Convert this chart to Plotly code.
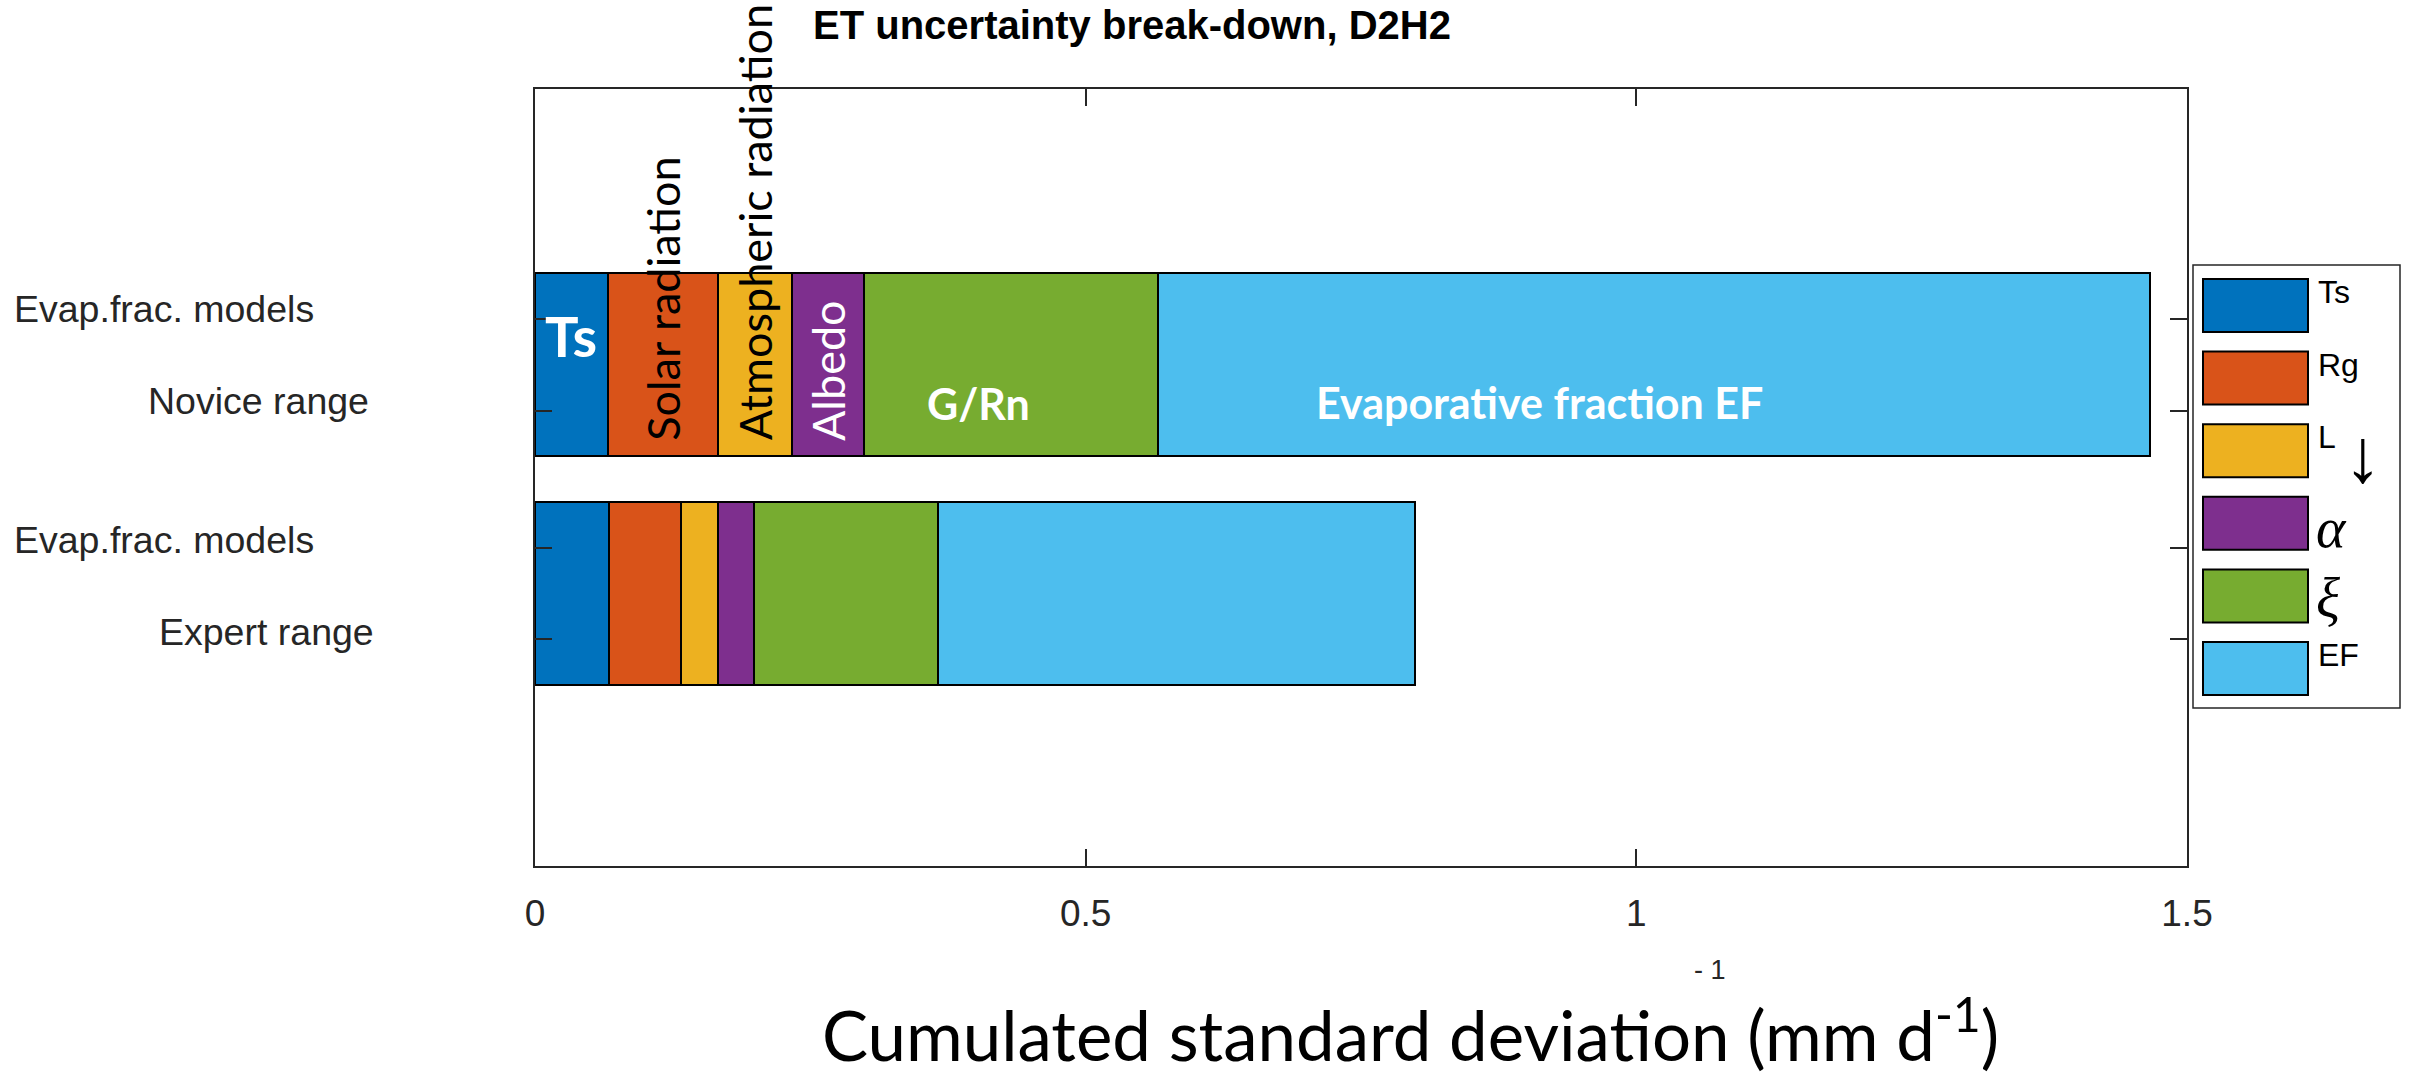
import plotly.graph_objects as go

# ---------------- data ----------------
components = ["Ts", "Rg", "L\u2193", "\u03b1", "\u03be", "EF"]
colors = ["#0072BD", "#D95319", "#EDB120", "#7E2F8E", "#77AC30", "#4DBEEE"]
bar_positions = [2, 1]                      # 2 = novice (top), 1 = expert (bottom)
novice_values = [0.066, 0.100, 0.067, 0.066, 0.267, 0.900]
expert_values = [0.067, 0.066, 0.033, 0.033, 0.167, 0.433]

x_tickvals = [0, 0.5, 1, 1.5]
x_ticktext = ["0", "0.5", "1", "1.5"]
y_tickvals = [2.2, 1.8, 1.2, 0.8]
y_ticktext = ["Evap.frac. models", "Novice range", "Evap.frac. models", "Expert range"]

title_text = "ET uncertainty break-down, D2H2"
xlabel_text = "Cumulated standard deviation (mm d<sup>-1</sup>)"

# ---------------- layout helpers ----------------
W, H = 2417, 1075
L, R, T, B = 535, 2187, 89, 866


def xp(px):
    return (px - L) / (R - L)


def yp(py):
    return (B - py) / (B - T)


AX = "#262626"
ARIAL = "Liberation Sans, Arial, sans-serif"
CALIBRI = "Lato, Open Sans, sans-serif"
SERIF = "Liberation Serif, DejaVu Serif, serif"

fig = go.Figure()
for i, name in enumerate(components):
    fig.add_trace(go.Bar(
        y=bar_positions,
        x=[novice_values[i], expert_values[i]],
        orientation="h",
        width=0.8,
        name=name,
        marker=dict(color=colors[i], line=dict(color="black", width=2)),
        showlegend=False,
        hoverinfo="x+name",
    ))

annotations = []

# title
annotations.append(dict(text="<b>" + title_text + "</b>", xref="paper", yref="paper",
                        x=xp(811), y=yp(25), xanchor="left", yanchor="middle",
                        showarrow=False, font=dict(family=ARIAL, size=40, color="black")))

# y tick labels (custom alignment)
ylab_left_px = [12, 146, 12, 157]
ylab_y = [2.245, 1.843, 1.236, 0.834]
for txt, lpx, yy in zip(y_ticktext, ylab_left_px, ylab_y):
    annotations.append(dict(text=txt, xref="paper", yref="y", x=xp(lpx), y=yy,
                            xanchor="left", yanchor="middle", showarrow=False,
                            font=dict(family=ARIAL, size=37.5, color=AX)))

# x axis label
annotations.append(dict(text=xlabel_text, xref="paper", yref="paper",
                        x=xp(1410), y=yp(1030), xanchor="center", yanchor="middle",
                        showarrow=False, font=dict(family=CALIBRI, size=69, color="black")))
annotations.append(dict(text="- 1", xref="paper", yref="paper",
                        x=xp(1710), y=yp(970), xanchor="center", yanchor="middle",
                        showarrow=False, font=dict(family=ARIAL, size=27, color=AX)))

# in-bar labels
cum = [sum(novice_values[:i + 1]) for i in range(len(novice_values))]
starts = [0] + cum[:-1]
mid = [(s + c) / 2 for s, c in zip(starts, cum)]
annotations.append(dict(text="<b>Ts</b>", x=mid[0], y=2.13, xref="x", yref="y",
                        showarrow=False, font=dict(family=CALIBRI, size=56, color="white")))
rot_labels = [("Solar radiation", 1, "black"), ("Atmospheric radiation", 2, "black"),
              ("Albedo", 3, "white")]
for txt, idx, col in rot_labels:
    annotations.append(dict(text=txt, x=mid[idx], y=1.66, xref="x", yref="y",
                            textangle=-90, xanchor="center", yanchor="bottom",
                            showarrow=False, font=dict(family=CALIBRI, size=45, color=col)))
annotations.append(dict(text="<b>G/Rn</b>", x=0.403, y=1.83, xref="x", yref="y",
                        showarrow=False, font=dict(family=CALIBRI, size=43, color="white")))
annotations.append(dict(text="<b>Evaporative fraction EF</b>", x=0.912, y=1.834, xref="x", yref="y",
                        showarrow=False, font=dict(family=CALIBRI, size=43, color="white")))

# manual legend
shapes = []
shapes.append(dict(type="rect", xref="paper", yref="paper",
                   x0=xp(2193), x1=xp(2400), y0=yp(708), y1=yp(265),
                   line=dict(color=AX, width=1.5), fillcolor="white", layer="above"))
sw_top0, sw_step, sw_h = 279, 72.6, 53
for i, col in enumerate(colors):
    top = sw_top0 + i * sw_step
    shapes.append(dict(type="rect", xref="paper", yref="paper",
                       x0=xp(2203), x1=xp(2308), y0=yp(top + sw_h), y1=yp(top),
                       line=dict(color="black", width=2), fillcolor=col, layer="above"))
plain_legend = {0: "Ts", 1: "Rg", 2: "L", 5: "EF"}
for i, txt in plain_legend.items():
    top = sw_top0 + i * sw_step
    annotations.append(dict(text=txt, xref="paper", yref="paper", x=xp(2316), y=yp(top - 7),
                            xanchor="left", yanchor="top", showarrow=False,
                            font=dict(family=ARIAL, size=32, color="black")))
annotations.append(dict(text="\u2193", xref="paper", yref="paper", x=xp(2363), y=yp(456),
                        xanchor="center", yanchor="middle", showarrow=False,
                        font=dict(family=SERIF, size=76, color="black")))
annotations.append(dict(text="<i>\u03b1</i>", xref="paper", yref="paper", x=xp(2314), y=yp(528),
                        xanchor="left", yanchor="middle", showarrow=False,
                        font=dict(family=SERIF, size=56, color="black")))
annotations.append(dict(text="<i>\u03be</i>", xref="paper", yref="paper", x=xp(2314), y=yp(598),
                        xanchor="left", yanchor="middle", showarrow=False,
                        font=dict(family=SERIF, size=56, color="black")))

fig.update_layout(
    width=W, height=H,
    margin=dict(l=L, r=W - R, t=T, b=H - B, autoexpand=False),
    barmode="stack",
    bargap=0,
    plot_bgcolor="white", paper_bgcolor="white",
    annotations=annotations,
    shapes=shapes,
    showlegend=False,
)
fig.update_xaxes(range=[0, 1.5], tickvals=x_tickvals, ticktext=x_ticktext,
                 ticks="inside", ticklen=17, tickwidth=1.5, tickcolor=AX,
                 showline=True, linecolor=AX, linewidth=2, mirror="ticks",
                 showgrid=False, zeroline=False, ticklabelstandoff=14,
                 tickfont=dict(family=ARIAL, size=37, color=AX))
fig.update_yaxes(range=[-0.19, 3.205], tickvals=y_tickvals, showticklabels=False,
                 ticks="inside", ticklen=17, tickwidth=1.5, tickcolor=AX,
                 showline=True, linecolor=AX, linewidth=2, mirror="ticks",
                 showgrid=False, zeroline=False)

fig.write_html("out.html")
